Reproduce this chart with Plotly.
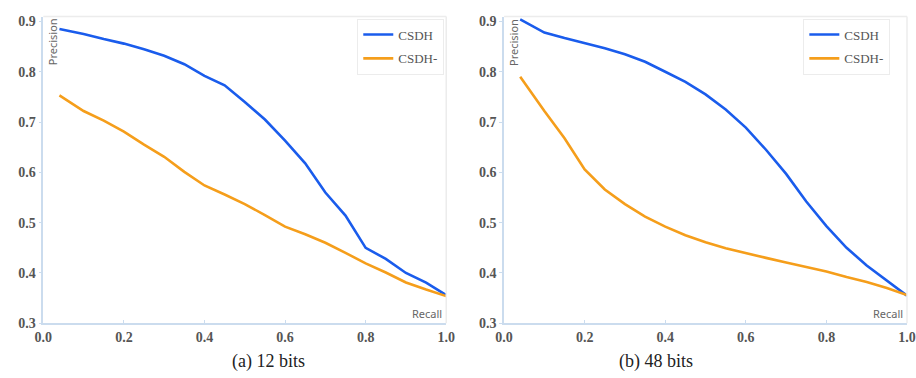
import plotly.graph_objects as go

recall = [0.04, 0.1, 0.15, 0.2, 0.25, 0.3, 0.35, 0.4, 0.45, 0.5,
          0.55, 0.6, 0.65, 0.7, 0.75, 0.8, 0.85, 0.9, 0.95, 1.0]

# (a) 12 bits
csdh_12 = [0.885, 0.875, 0.865, 0.856, 0.845, 0.832, 0.815, 0.792, 0.773, 0.740,
           0.705, 0.663, 0.618, 0.560, 0.514, 0.450, 0.428, 0.400, 0.381, 0.356]
csdh_minus_12 = [0.753, 0.722, 0.703, 0.681, 0.655, 0.631, 0.601, 0.574, 0.556, 0.537,
                 0.515, 0.492, 0.477, 0.460, 0.440, 0.419, 0.401, 0.381, 0.367, 0.354]

# (b) 48 bits
csdh_48 = [0.904, 0.878, 0.867, 0.857, 0.847, 0.835, 0.820, 0.800, 0.780, 0.755,
           0.725, 0.689, 0.645, 0.597, 0.542, 0.493, 0.450, 0.415, 0.385, 0.355]
csdh_minus_48 = [0.790, 0.722, 0.668, 0.606, 0.566, 0.537, 0.512, 0.492, 0.475, 0.461,
                 0.449, 0.439, 0.430, 0.421, 0.412, 0.403, 0.392, 0.382, 0.370, 0.356]

series_names = ["CSDH", "CSDH-"]
x_ticks = [0.0, 0.2, 0.4, 0.6, 0.8, 1.0]
y_ticks = [0.3, 0.4, 0.5, 0.6, 0.7, 0.8, 0.9]
captions = ["(a) 12 bits", "(b) 48 bits"]

BLUE = "#1a5cec"
ORANGE = "#f59e1b"
AXIS = "#cbdcee"
FRAME = "#ececec"
TICKCOL = "#555555"
SERIF = "Liberation Serif"

fig = go.Figure()

panels = [
    ("x", "y", "legend", csdh_12, csdh_minus_12),
    ("x2", "y2", "legend2", csdh_48, csdh_minus_48),
]
for xa, ya, lg, a, b in panels:
    for name, vals, col in zip(series_names, [a, b], [BLUE, ORANGE]):
        fig.add_trace(go.Scatter(
            x=recall, y=vals, name=name, mode="lines",
            line=dict(color=col, width=2.6),
            xaxis=xa, yaxis=ya, legend=lg, legendgroup=lg + name,
        ))

x_text = [f"<b>{v:.1f}</b>" for v in x_ticks]
y_text = [f"<b>{v:.1f}</b>" for v in y_ticks]

fig.update_layout(
    width=916, height=378,
    margin=dict(l=0, r=0, t=0, b=0),
    paper_bgcolor="white", plot_bgcolor="white",
    showlegend=True,
)

for xname, yname, xdom in [("xaxis", "yaxis", [35 / 916, 446 / 916]),
                           ("xaxis2", "yaxis2", [505 / 916, 1.0])]:
    xa_id = "x" if xname == "xaxis" else "x2"
    ya_id = "y" if yname == "yaxis" else "y2"
    fig.update_layout({
        xname: dict(
            domain=xdom, anchor=ya_id, range=[0.0, 1.0],
            tickmode="array", tickvals=x_ticks, ticktext=x_text,
            showgrid=False, zeroline=False, showline=True, linecolor=AXIS, linewidth=1.5,
            ticks="inside", ticklen=4, tickcolor=AXIS,
            tickfont=dict(family=SERIF, size=14, color=TICKCOL),
            ticklabeloverflow="allow",
        ),
        yname: dict(
            domain=[48 / 378, 1 - 15 / 378], anchor=xa_id, range=[0.3, 0.9097],
            tickmode="array", tickvals=y_ticks, ticktext=y_text,
            showgrid=False, zeroline=False, showline=True, linecolor=AXIS, linewidth=1.5,
            ticks="outside", ticklen=3, tickcolor=AXIS,
            tickfont=dict(family=SERIF, size=14, color=TICKCOL),
        ),
    })


def legend(xr):
    return dict(x=xr / 916, y=1 - 17 / 378, xanchor="right", yanchor="top",
                bordercolor=FRAME, borderwidth=1, bgcolor="white",
                font=dict(family=SERIF, size=13, color=TICKCOL),
                traceorder="grouped", tracegroupgap=4, itemwidth=30)


fig.update_layout(legend=legend(444), legend2=legend(899))

# frame top/right and axis titles
for xa, ya in [("x", "y"), ("x2", "y2")]:
    fig.add_shape(type="line", xref=f"{xa} domain", yref=f"{ya} domain",
                  x0=0, x1=1, y0=1, y1=1, line=dict(color=FRAME, width=1.5))
    fig.add_shape(type="line", xref=f"{xa} domain", yref=f"{ya} domain",
                  x0=1, x1=1, y0=0, y1=1, line=dict(color=FRAME, width=1.5))
    fig.add_annotation(text="Precision", xref=f"{xa} domain", yref=f"{ya} domain",
                       x=0.022, y=0.917, xanchor="center", yanchor="middle", textangle=-90,
                       showarrow=False,
                       font=dict(family="Noto Sans", size=11, color="#666666"))
    fig.add_annotation(text="Recall", xref=f"{xa} domain", yref=f"{ya} domain",
                       x=0.995, y=0.0, xanchor="right", yanchor="bottom",
                       showarrow=False,
                       font=dict(family="Noto Sans", size=11, color="#666666"))

for cap, cx in zip(captions, [265, 660]):
    fig.add_annotation(text=cap, xref="paper", yref="paper", x=cx / 916, y=1 - 369 / 378,
                       showarrow=False, xanchor="center", yanchor="middle",
                       font=dict(family=SERIF, size=18, color="#222222"))

fig.write_html("out.html")
